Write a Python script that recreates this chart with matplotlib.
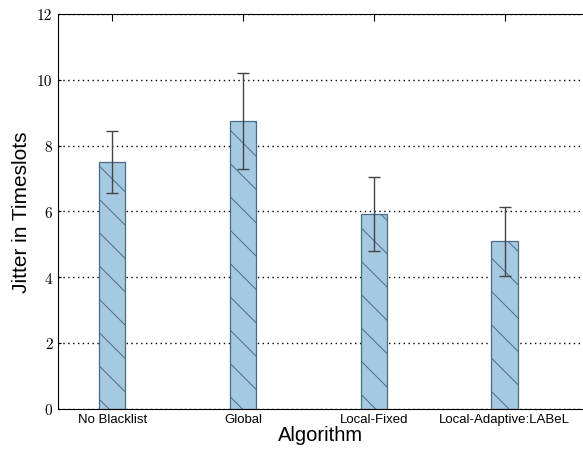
import matplotlib
matplotlib.use("Agg")
import matplotlib.pyplot as plt
import numpy as np

algorithms = ["No Blacklist", "Global", "Local-Fixed", "Local-Adaptive:LABeL"]
jitter = [7.5, 8.75, 5.92, 5.1]
jitter_err = [0.95, 1.47, 1.12, 1.05]

plt.rcParams['hatch.color'] = '#3a5a78'
plt.rcParams['hatch.linewidth'] = 0.7

fig = plt.figure(figsize=(5.83, 4.56), dpi=100)
ax = fig.add_axes([0.0995, 0.101, 0.9005, 0.866])

x = np.arange(len(algorithms))
ax.bar(x, jitter, width=0.2, color='#a6c9e2', edgecolor='#4a6b88',
       linewidth=0.9, hatch='\\', zorder=2)
ax.errorbar(x, jitter, yerr=jitter_err, fmt='none', ecolor='#444444',
            elinewidth=1.0, capsize=4, capthick=1.0, zorder=3)

ax.set_xlim(-0.415, 3.6)
ax.set_ylim(0, 12)
ax.set_xticks(x)
ax.set_xticklabels(algorithms, fontsize=9.5, family='Liberation Sans')
ax.set_yticks(range(0, 13, 2))
ax.set_yticklabels([str(v) for v in range(0, 13, 2)], fontsize=11,
                   family='cmr10')
ax.tick_params(axis='x', direction='in', top=True, length=5, pad=3)
ax.tick_params(axis='y', direction='in', left=True, right=False, length=2, pad=4)
ax.yaxis.grid(True, linestyle=(0, (1, 2.5)), color='black', linewidth=1.0)
ax.set_axisbelow(True)
ax.spines['right'].set_visible(False)

ax.set_xlabel("Algorithm", fontsize=14.5, family='Liberation Sans', labelpad=0)
ax.set_ylabel("Jitter in Timeslots", fontsize=15, family='Liberation Sans')

fig.savefig("out.png", dpi=100)
